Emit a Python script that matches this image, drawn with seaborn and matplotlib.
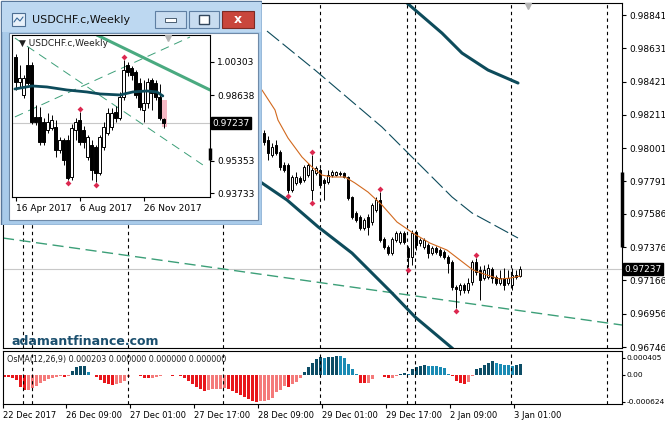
import numpy as np
import pandas as pd
import seaborn as sns
import matplotlib
matplotlib.use("Agg")
import matplotlib.pyplot as plt
import matplotlib.transforms as mtransforms
from matplotlib.patches import Rectangle

# ---------------- data: USDCHF.c H1 (main pane) ----------------
h1_open = [0.98097, 0.98052, 0.97958, 0.98021, 0.97977, 0.97895, 0.97895, 0.97737, 0.97781, 0.97812,
           0.97800, 0.97831, 0.97737, 0.97844, 0.97863, 0.97800, 0.97787, 0.97831, 0.97831, 0.97844,
           0.97844, 0.97819, 0.97693, 0.97592, 0.97566, 0.97497, 0.97566, 0.97535, 0.97611, 0.97674,
           0.97428, 0.97377, 0.97339, 0.97421, 0.97409, 0.97465, 0.97371, 0.97314, 0.97472, 0.97402,
           0.97377, 0.97390, 0.97339, 0.97371, 0.97358, 0.97346, 0.97314, 0.97282, 0.97125, 0.97106,
           0.97137, 0.97106, 0.97156, 0.97282, 0.97232, 0.97181, 0.97188, 0.97238, 0.97188, 0.97150,
           0.97181, 0.97150, 0.97137, 0.97200, 0.97194]
h1_high = [0.98115, 0.98078, 0.98033, 0.98052, 0.97989, 0.97913, 0.97907, 0.97831, 0.97850, 0.97825,
           0.97895, 0.97907, 0.97958, 0.97888, 0.97876, 0.97812, 0.97863, 0.97863, 0.97857, 0.97857,
           0.97850, 0.97825, 0.97699, 0.97604, 0.97579, 0.97560, 0.97585, 0.97655, 0.97693, 0.97724,
           0.97440, 0.97390, 0.97440, 0.97478, 0.97478, 0.97478, 0.97383, 0.97484, 0.97484, 0.97434,
           0.97434, 0.97402, 0.97383, 0.97383, 0.97371, 0.97358, 0.97327, 0.97295, 0.97137, 0.97150,
           0.97150, 0.97181, 0.97295, 0.97308, 0.97257, 0.97264, 0.97270, 0.97251, 0.97200, 0.97232,
           0.97245, 0.97232, 0.97245, 0.97232, 0.97257]
h1_low = [0.98021, 0.97926, 0.97945, 0.97958, 0.97863, 0.97850, 0.97718, 0.97724, 0.97768, 0.97775,
          0.97787, 0.97819, 0.97674, 0.97831, 0.97756, 0.97674, 0.97775, 0.97819, 0.97825, 0.97825,
          0.97812, 0.97674, 0.97554, 0.97535, 0.97484, 0.97484, 0.97453, 0.97516, 0.97598, 0.97409,
          0.97364, 0.97327, 0.97327, 0.97409, 0.97396, 0.97396, 0.97251, 0.97264, 0.97358, 0.97383,
          0.97364, 0.97308, 0.97327, 0.97333, 0.97314, 0.97301, 0.97213, 0.97106, 0.96992, 0.97074,
          0.97087, 0.97087, 0.97137, 0.97200, 0.97043, 0.97169, 0.97175, 0.97150, 0.97137, 0.97137,
          0.97106, 0.97137, 0.97106, 0.97175, 0.97188]
h1_close = [0.98040, 0.97970, 0.98008, 0.97970, 0.97882, 0.97863, 0.97737, 0.97819, 0.97819, 0.97787,
            0.97882, 0.97895, 0.97863, 0.97876, 0.97768, 0.97781, 0.97831, 0.97850, 0.97850, 0.97838,
            0.97819, 0.97686, 0.97566, 0.97547, 0.97497, 0.97547, 0.97503, 0.97642, 0.97674, 0.97421,
            0.97377, 0.97339, 0.97428, 0.97465, 0.97465, 0.97409, 0.97314, 0.97465, 0.97390, 0.97421,
            0.97421, 0.97339, 0.97371, 0.97346, 0.97327, 0.97314, 0.97276, 0.97125, 0.97112, 0.97137,
            0.97106, 0.97150, 0.97282, 0.97219, 0.97169, 0.97232, 0.97245, 0.97181, 0.97150, 0.97181,
            0.97137, 0.97181, 0.97200, 0.97188, 0.97237]
h1_first_bar = 65
h1_fractal_up = [12, 29, 53]
h1_fractal_down = [6, 12, 36, 48]

ma_bar = [64.5, 67.75, 68.5, 71, 74.5, 77, 79.5, 82, 85.25, 87.75, 91, 94.5, 98.25, 102.25,
          106.5, 110.75, 114, 117.25, 120.75, 124, 126.5, 129]
ma_val = [0.98368, 0.98242, 0.98178, 0.98065, 0.97945, 0.97882, 0.97831, 0.97819, 0.97819, 0.97781,
          0.97724, 0.97642, 0.97535, 0.97465, 0.97402, 0.97358, 0.97295, 0.97232, 0.97200, 0.97175,
          0.97181, 0.97194]

band_up_bar = [97.75, 100.75, 109.5, 114.5, 121, 128.5]
band_up_val = [0.98986, 0.98917, 0.98727, 0.98601, 0.98494, 0.98412]
band_lo_bar = [59, 64.5, 70.75, 78.5, 87, 97, 102.75, 112, 119, 128.5]
band_lo_val = [0.97876, 0.97781, 0.97674, 0.97505, 0.97339, 0.97087, 0.96936, 0.96740, 0.96570, 0.96349]
band_mid_bar = [65.75, 77.75, 94.5, 102, 112, 117, 128.5]
band_mid_val = [0.98740, 0.98494, 0.98134, 0.97945, 0.97693, 0.97592, 0.97434]
trend_bar = [-0.25, 154.5]
trend_val = [0.97434, 0.96885]

last_price = 0.97237
price_ticks = [0.98841, 0.98631, 0.98421, 0.98211, 0.98001, 0.97791, 0.97586, 0.97376, 0.97166,
               0.96956, 0.96746]
separators = [4.75, 7.0, 31.0, 54.75, 79.0, 100.75, 102.75, 126.75, 150.75]
time_ticks = [-0.25, 15.5, 31.5, 47.5, 63.5, 79.5, 95.5, 111.5, 127.5]
time_labels = ["22 Dec 2017", "26 Dec 09:00", "27 Dec 01:00", "27 Dec 17:00", "28 Dec 09:00",
               "29 Dec 01:00", "29 Dec 17:00", "2 Jan 09:00", "3 Jan 01:00"]

# OsMA(12,26,9) histogram, one value per H1 bar
osma = [-0.00004, -0.00005, -0.00007, -0.00013, -0.00028, -0.00036, -0.00035, -0.00030, -0.00026,
        -0.00020, -0.00014, -0.00010, -0.00006, -0.00005, -0.00003, -0.00005, -0.00002,
        0.00009, 0.00019, 0.00021, 0.00022, 0.00006, 0.00001,
        -0.00005, -0.00012, -0.00018, -0.00022, -0.00023, -0.00022, -0.00019, -0.00014, -0.00005,
        0.00001, 0.000005,
        -0.00003, -0.00006, -0.00008, -0.00007, -0.00005, -0.00003, -0.00001,
        0.00001,
        -0.00002, -0.00001, -0.00002,
        -0.00008, -0.00015, -0.00022, -0.00029, -0.00034, -0.00037, -0.00036, -0.00034, -0.00033,
        -0.00032, -0.00031, -0.00033, -0.00037, -0.00042, -0.00047, -0.00052, -0.00056, -0.00060,
        -0.00063, -0.00062, -0.00060,
        -0.00058, -0.00053, -0.00041, -0.00036, -0.00027, -0.00028, -0.00022, -0.00016, -0.00006,
        0.00008, 0.00019, 0.00029, 0.00037, 0.00041, 0.00039, 0.00041, 0.00042, 0.00045, 0.00044,
        0.00039, 0.00025, 0.00013, 0.00002,
        -0.00018, -0.00020, -0.000195, -0.00010, -0.00001,
        0.00001,
        -0.00005, -0.00008, -0.00007, -0.00002,
        0.00003, 0.00005, 0.00002, 0.00013, 0.00019, 0.00021, 0.00023, 0.00021, 0.00020, 0.000198,
        0.00019, 0.00016, 0.00002,
        -0.00002, -0.00014, -0.00020, -0.00022, -0.00016, -0.00002,
        0.00013, 0.00016, 0.00023, 0.00029, 0.00033, 0.00029, 0.00025, 0.00023, 0.000225, 0.00021,
        0.00023, 0.000265]
osma_ticks = [0.000405, 0.0, -0.000624]
osma_tick_labels = ["0.000405", "0.00", "-0.000624"]

# ---------------- data: USDCHF.c Weekly (inset window) ----------------
w1_open = [1.00554, 0.99301, 0.98650, 1.00153, 1.00153, 0.97548, 0.97548, 0.97297, 0.96896, 0.96996,
           0.97046, 0.95894, 0.96395, 0.96395, 0.94542, 0.96896, 0.97397, 0.96896, 0.95544, 0.96145,
           0.96045, 0.94742, 0.96045, 0.96746, 0.97046, 0.97798, 0.97497, 0.98550, 1.00153, 1.00002,
           0.99802, 0.99251, 0.97898, 0.98249, 0.99401, 0.99251, 0.98550, 0.97447]
w1_high = [1.00704, 1.00153, 0.99652, 1.01055, 1.00303, 0.98149, 0.98048, 0.97497, 0.97748, 0.97648,
           0.97397, 0.96546, 0.96495, 0.96646, 0.97197, 0.97497, 0.97798, 0.97097, 0.96646, 0.96395,
           0.96145, 0.96646, 0.97297, 0.97998, 0.97998, 0.98099, 0.98800, 1.00403, 1.00303, 1.00103,
           0.99902, 0.99501, 0.99401, 0.99501, 0.99501, 0.99401, 0.99201, 0.97497]
w1_low = [0.98900, 0.99000, 0.98499, 0.99151, 0.97197, 0.97147, 0.96145, 0.96145, 0.96746, 0.96896,
          0.95544, 0.95744, 0.95143, 0.94391, 0.94391, 0.96395, 0.96145, 0.95994, 0.95393, 0.94391,
          0.94291, 0.94642, 0.95894, 0.96646, 0.96896, 0.97297, 0.97397, 0.98399, 0.99602, 0.99401,
          0.98499, 0.97898, 0.97297, 0.97998, 0.97898, 0.98399, 0.97397, 0.96996]
w1_close = [0.99301, 0.99501, 0.99501, 0.99251, 0.97297, 0.97297, 0.96295, 0.96295, 0.97297, 0.97397,
            0.95894, 0.96395, 0.95393, 0.94491, 0.96996, 0.97297, 0.96295, 0.96295, 0.96546, 0.94892,
            0.94742, 0.96546, 0.97046, 0.97748, 0.97748, 0.97497, 0.98550, 0.99902, 0.99802, 0.99652,
            0.98650, 0.98048, 0.98249, 0.99301, 0.98750, 0.98550, 0.97497, 0.97237]
w1_fractal_up = [16, 27]
w1_fractal_down = [13, 20]
w1_ma_bar = [-0.2, 4.1, 7.8, 12.8, 17.8, 21.1, 26.1, 29.3, 32.8, 35.3, 36.8]
w1_ma_val = [0.98950, 0.99101, 0.99051, 0.98900, 0.98800, 0.98700, 0.98650, 0.98800, 0.98850,
             0.98800, 0.98600]
w1_trend_bar = [20.3, 48.6]
w1_trend_val = [1.01656, 0.98900]
w1_chan_a_bar = [-0.2, 46.8]
w1_chan_a_val = [1.01505, 0.95143]
w1_chan_b_bar = [-0.2, 43.6]
w1_chan_b_val = [0.97547, 1.01555]
w1_price_ticks = [1.00303, 0.98638, 0.95353, 0.93733]
w1_date_ticks = [0, 16, 32]
w1_date_labels = ["16 Apr 2017", "6 Aug 2017", "26 Nov 2017"]

# ---------------- style ----------------
sns.set_style("white")
plt.rcParams["font.family"] = ["DejaVu Sans"]
plt.rcParams["font.size"] = 6.5

TEAL = "#0d4b5b"
GREEN = "#3c9f78"
GRID = "#c8c8c8"
FRACTAL = "#dc2850"
W, H = 665, 425


def box(x0, y0, x1, y1):
    # pixel box (top-left origin) -> figure fraction
    return [x0 / W, 1 - y1 / H, (x1 - x0) / W, (y1 - y0) / H]


def candles(a, xs, o, h, l, c, width, min_h, lw=0.7):
    o, h, l, c = map(np.asarray, (o, h, l, c))
    a.vlines(xs, l, h, color="black", lw=lw, zorder=3)
    up = c >= o
    a.bar(xs, np.maximum(np.abs(c - o), min_h), width, np.minimum(o, c),
          color=np.where(up, "white", "black"), edgecolor="black", linewidth=lw, zorder=4)


def frame(a):
    for s in a.spines.values():
        s.set_visible(True)
        s.set_color("black")
        s.set_linewidth(0.8)


def price_box(a, value, fs=6.5, x=1.004):
    tr = mtransforms.blended_transform_factory(a.transAxes, a.transData)
    a.text(x, value, f"{value:.5f}", transform=tr, color="white", fontsize=fs,
           va="center", ha="left", clip_on=False, zorder=20,
           bbox=dict(boxstyle="square,pad=0.15", fc="black", ec="black"))


fig = plt.figure(figsize=(6.65, 4.25), dpi=100)

# ---------------- main pane ----------------
ax = fig.add_axes(box(3, 3, 622, 348))
ax.set_zorder(1)
xs = np.arange(h1_first_bar, h1_first_bar + len(h1_open))

ax.axhline(last_price, color=GRID, lw=0.8, zorder=1)
for b in separators:
    ax.axvline(b, color="black", lw=0.8, ls=(0, (3, 3)), zorder=1)

sns.lineplot(x=trend_bar, y=trend_val, ax=ax, color=GREEN, lw=1.0, linestyle=(0, (8, 4)),
             estimator=None, sort=False, zorder=2)
sns.lineplot(x=band_mid_bar, y=band_mid_val, ax=ax, color=TEAL, lw=0.8, linestyle=(0, (14, 4)),
             estimator=None, sort=False, zorder=2)
sns.lineplot(x=band_up_bar, y=band_up_val, ax=ax, color=TEAL, lw=2.2, estimator=None, sort=False, zorder=2)
sns.lineplot(x=band_lo_bar, y=band_lo_val, ax=ax, color=TEAL, lw=2.2, estimator=None, sort=False, zorder=2)

candles(ax, xs, h1_open, h1_high, h1_low, h1_close, 0.55, 0.00003)
sns.lineplot(x=ma_bar, y=ma_val, ax=ax, color="#d2691e", lw=0.8, estimator=None, sort=False, zorder=5)

hi = np.asarray(h1_high)
lo = np.asarray(h1_low)
sns.scatterplot(x=xs[h1_fractal_up], y=hi[h1_fractal_up] + 0.00018, ax=ax, marker="D", s=9,
                color=FRACTAL, linewidth=0, zorder=6)
sns.scatterplot(x=xs[h1_fractal_down], y=lo[h1_fractal_down] - 0.00018, ax=ax, marker="D", s=9,
                color=FRACTAL, linewidth=0, zorder=6)

ax.vlines(154.5, 0.97377, 0.97850, color="black", lw=2.5, clip_on=False, zorder=7)
ax.plot([131], [0.98898], marker="v", color="#b4b4b4", ms=5, clip_on=False, zorder=7)

ax.set_xlim(-0.25, 154.5)
ax.set_ylim(0.96740, 0.98917)
ax.yaxis.tick_right()
ax.set_yticks(price_ticks)
ax.set_yticklabels([f"{v:.5f}" for v in price_ticks])
ax.tick_params(axis="y", direction="out", length=3, pad=2, labelsize=6.5, colors="black")
ax.tick_params(axis="x", bottom=False, labelbottom=False)
ax.set_xlabel("")
ax.set_ylabel("")
frame(ax)
price_box(ax, last_price)

fig.text(12 / W, 1 - 345 / H, "adamantfinance.com", fontsize=9, fontweight="bold",
         color="#1b4f6e", va="baseline", zorder=3)

# ---------------- OsMA pane ----------------
osc = fig.add_axes(box(3, 351, 622, 404))
osc.set_zorder(1)
vals = np.asarray(osma)
prev = np.concatenate([[0.0], vals[:-1]])
tone = np.where(vals >= 0, np.where(vals >= prev, "up", "up_fade"),
                np.where(vals <= prev, "down", "down_fade"))
osma_df = pd.DataFrame({"bar": np.arange(len(vals)), "value": vals, "tone": tone})
palette = {"up": "#0c4d66", "up_fade": "#1a8bb4", "down": "#e8161b", "down_fade": "#f47a7a"}
sns.barplot(data=osma_df, x="bar", y="value", hue="tone", palette=palette, native_scale=True,
            dodge=False, width=0.75, saturation=1, linewidth=0, errorbar=None, legend=False, ax=osc)
for b in separators:
    osc.axvline(b, color="black", lw=0.8, ls=(0, (3, 3)), zorder=1)

osc.set_xlim(-0.25, 154.5)
osc.set_ylim(-0.00068, 0.00056)
osc.yaxis.tick_right()
osc.set_yticks(osma_ticks)
osc.set_yticklabels(osma_tick_labels)
osc.tick_params(axis="y", direction="out", length=2, pad=1, labelsize=5.4, colors="black")
osc.set_xticks(time_ticks)
osc.set_xticklabels(time_labels, ha="left")
osc.tick_params(axis="x", direction="out", length=3, pad=2, labelsize=6, colors="black", bottom=True)
osc.set_xlabel("")
osc.set_ylabel("")
frame(osc)
osc.text(0.007, 0.93, "OsMA(12,26,9) 0.000203 0.000000 0.000000 0.000000", transform=osc.transAxes,
         fontsize=5.8, va="top", ha="left", color="#202020")

# ---------------- inset window chrome ----------------
win = fig.add_axes(box(0, 0, 262, 225))
win.set_zorder(5)
win.set_xlim(0, 262)
win.set_ylim(225, 0)
win.axis("off")
win.add_patch(Rectangle((0.5, 0.5), 261, 224, fc="#a9cbea", ec="#58779a", lw=1))
win.add_patch(Rectangle((1.5, 1.5), 259, 30, fc="#bdd8f1", ec="none"))
win.add_patch(Rectangle((9, 33), 249, 187, fc="white", ec="#6f8aa8", lw=0.8))
win.add_patch(Rectangle((12, 13), 13, 13, fc="#e8f1fa", ec="#4d6e92", lw=0.8))
win.plot([14, 17, 20, 23], [22, 18, 21, 17], color="#3a6a9a", lw=0.8)
win.text(32, 20, "USDCHF.c,Weekly", fontsize=8, va="center", ha="left", color="#111111")
win.add_patch(Rectangle((155, 11), 31, 17, fc="#c8dcf0", ec="#5f7fa3", lw=0.8))
win.add_patch(Rectangle((165, 18), 11, 4, fc="white", ec="#33475c", lw=0.6))
win.add_patch(Rectangle((189, 11), 30, 17, fc="#c8dcf0", ec="#5f7fa3", lw=0.8))
win.add_patch(Rectangle((199, 15), 10, 9, fc="white", ec="#33475c", lw=1.0))
win.add_patch(Rectangle((222, 11), 32, 17, fc="#c9463c", ec="#7b2a24", lw=0.8))
win.text(238, 19.5, "x", fontsize=9, fontweight="bold", color="white", ha="center", va="center")

# ---------------- inset chart ----------------
ins = fig.add_axes(box(12, 35, 210, 197))
ins.set_zorder(6)
wx = np.arange(len(w1_open))
ins.axhline(last_price, color=GRID, lw=0.8, zorder=1)
sns.lineplot(x=w1_chan_a_bar, y=w1_chan_a_val, ax=ins, color=GREEN, lw=0.7, linestyle=(0, (9, 6)),
             estimator=None, sort=False, zorder=2)
sns.lineplot(x=w1_chan_b_bar, y=w1_chan_b_val, ax=ins, color=GREEN, lw=0.7, linestyle=(0, (9, 6)),
             estimator=None, sort=False, zorder=2)
sns.lineplot(x=w1_trend_bar, y=w1_trend_val, ax=ins, color="#4aaa80", lw=2.2, estimator=None,
             sort=False, zorder=2)
ins.add_patch(Rectangle((36.6, 0.97046), 1.2, 0.01353, fc="#f6b8c4", ec="none", zorder=2))
candles(ins, wx, w1_open, w1_high, w1_low, w1_close, 0.6, 0.0003)
sns.lineplot(x=w1_ma_bar, y=w1_ma_val, ax=ins, color=TEAL, lw=2.0, estimator=None, sort=False, zorder=5)
whi = np.asarray(w1_high)
wlo = np.asarray(w1_low)
sns.scatterplot(x=wx[w1_fractal_up], y=whi[w1_fractal_up] + 0.0015, ax=ins, marker="D", s=9,
                color=FRACTAL, linewidth=0, zorder=6)
sns.scatterplot(x=wx[w1_fractal_down], y=wlo[w1_fractal_down] - 0.0015, ax=ins, marker="D", s=9,
                color=FRACTAL, linewidth=0, zorder=6)
ins.vlines(48.6, 0.95393, 0.95994, color="black", lw=2.5, clip_on=False, zorder=7)
ins.plot([38.1], [1.0151], marker="v", color="#b4b4b4", ms=5, clip_on=False, zorder=7)

ins.set_xlim(-0.925, 48.6)
ins.set_ylim(0.93533, 1.01656)
ins.yaxis.tick_right()
ins.set_yticks(w1_price_ticks)
ins.set_yticklabels([f"{v:.5f}" for v in w1_price_ticks])
ins.tick_params(axis="y", direction="out", length=3, pad=2, labelsize=6.5, colors="black")
ins.set_xticks(w1_date_ticks)
ins.set_xticklabels(w1_date_labels, ha="left")
ins.tick_params(axis="x", direction="out", length=3, pad=2, labelsize=6.5, colors="black", bottom=True)
ins.set_xlabel("")
ins.set_ylabel("")
frame(ins)
price_box(ins, last_price, x=1.01)
ins.text(0.035, 0.945, "\u25bc USDCHF.c,Weekly", transform=ins.transAxes, fontsize=6.5,
         va="center", ha="left", color="#202020", zorder=8)

fig.savefig("out.png", dpi=100)
